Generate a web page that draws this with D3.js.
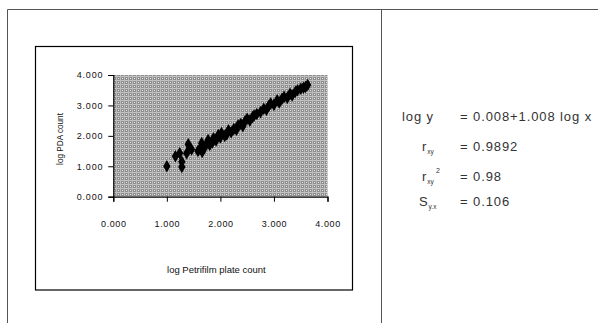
<!DOCTYPE html>
<html>
<head>
<meta charset="utf-8">
<script src="https://cdn.jsdelivr.net/npm/d3@7"></script>
<style>
  body { margin: 0; background: #fff; }
  svg { display: block; font-family: Arial, "Liberation Sans", sans-serif; }
</style>
</head>
<body>
<div id="chart"></div>
<script>
// values (log10 counts)
const logPetrifilm = [1.00, 1.16, 1.24, 1.28, 1.28, 1.37, 1.40, 1.46, 1.58, 1.62, 1.66, 1.65, 1.70, 1.72,
  1.77, 1.80, 1.85, 1.87, 1.92, 1.96, 2.00, 2.02, 2.08, 2.12, 2.15, 2.20, 2.25, 2.30, 2.33, 2.38,
  2.42, 2.46, 2.50, 2.55, 2.60, 2.63, 2.68, 2.75, 2.81, 2.86, 2.90, 2.94, 3.00, 3.06, 3.10, 3.15,
  3.19, 3.25, 3.30, 3.34, 3.40, 3.44, 3.50, 3.55, 3.59, 3.63]
const logPDA = [1.00, 1.33, 1.43, 1.15, 0.98, 1.43, 1.72, 1.55, 1.50, 1.58, 1.47, 1.76, 1.60, 1.68,
  1.86, 1.70, 1.78, 1.92, 1.85, 2.03, 1.95, 2.09, 2.00, 2.05, 2.18, 2.12, 2.22, 2.20, 2.35, 2.39,
  2.32, 2.48, 2.56, 2.50, 2.62, 2.67, 2.72, 2.78, 2.89, 2.86, 2.98, 3.06, 3.02, 3.17, 3.10, 3.22,
  3.28, 3.25, 3.38, 3.33, 3.45, 3.50, 3.55, 3.58, 3.61, 3.67]

const xTicks = [0, 1, 2, 3, 4]
const yTicks = [0, 1, 2, 3, 4]

// regression summary shown on the right
const statLabels = ['log y', 'r', 'r', 'S']
const statSubs = ['', 'xy', 'xy', 'y.x']
const statSups = ['', '', '2', '']
const statValues = ['= 0.008+1.008 log x', '= 0.9892', '=  0.98', '= 0.106']

const width = 598
const height = 323

const svg = d3.select('#chart')
  .append('svg')
  .attr('width', width)
  .attr('height', height)

// outer frame of the table cell
svg.append('path')
  .attr('d', 'M7.5,323 V9.5 H598 M381.5,9.5 V323')
  .attr('fill', 'none')
  .attr('stroke', '#555')
  .attr('stroke-width', 1)

// chart box
svg.append('rect')
  .attr('x', 35.5)
  .attr('y', 46.5)
  .attr('width', 317)
  .attr('height', 243.5)
  .attr('fill', '#fff')
  .attr('stroke', '#000')
  .attr('stroke-width', 1.2)

// plot area
const plot = { left: 113.3, top: 75, right: 327.5, bottom: 196.7 }

const x = d3.scaleLinear()
  .domain([0, 4])
  .range([plot.left, plot.right])

const y = d3.scaleLinear()
  .domain([0, 4])
  .range([plot.bottom, plot.top])

// speckled grey background of the scan
const defs = svg.append('defs')
const pat = defs.append('pattern')
  .attr('id', 'speckle')
  .attr('patternUnits', 'userSpaceOnUse')
  .attr('width', 4)
  .attr('height', 4)
pat.append('rect').attr('width', 4).attr('height', 4).attr('fill', '#8e8e8e')
pat.append('rect').attr('width', 4).attr('height', 1).attr('fill', '#c4c4c4')
pat.append('rect').attr('width', 1).attr('height', 4).attr('fill', '#bcbcbc')
pat.append('rect').attr('x', 2).attr('y', 2).attr('width', 1).attr('height', 1).attr('fill', '#e8e8e8')

svg.append('rect')
  .attr('x', plot.left)
  .attr('y', plot.top)
  .attr('width', plot.right - plot.left)
  .attr('height', plot.bottom - plot.top)
  .attr('fill', 'url(#speckle)')

// x axis
svg.append('g')
  .attr('transform', `translate(0,${plot.bottom})`)
  .call(d3.axisBottom(x).tickValues(xTicks).tickSize(5).tickFormat(d3.format('.3f')))
  .call(g => g.select('.domain').attr('stroke-width', 1.2))
  .call(g => g.selectAll('.tick text')
    .attr('y', 24)
    .attr('font-size', 9)
    .attr('letter-spacing', 0.6)
    .attr('font-family', 'Arial, "Liberation Sans", sans-serif')
    .attr('fill', '#111'))

// y axis
svg.append('g')
  .attr('transform', `translate(${plot.left},0)`)
  .call(d3.axisLeft(y).tickValues(yTicks).tickSize(5).tickFormat(d3.format('.3f')))
  .call(g => g.select('.domain').attr('stroke-width', 1.2))
  .call(g => g.selectAll('.tick text')
    .attr('x', -10)
    .attr('font-size', 9)
    .attr('letter-spacing', 0.8)
    .attr('font-family', 'Arial, "Liberation Sans", sans-serif')
    .attr('fill', '#111'))

// axis titles
svg.append('text')
  .attr('x', (plot.left + plot.right) / 2 - 4)
  .attr('y', 273)
  .attr('text-anchor', 'middle')
  .attr('font-size', 9.5)
  .attr('fill', '#111')
  .text('log Petrifilm plate count')

svg.append('text')
  .attr('transform', 'translate(63,139) rotate(-90)')
  .attr('text-anchor', 'middle')
  .attr('font-size', 8.2)
  .attr('fill', '#111')
  .text('log PDA count')

// data points
svg.append('g')
  .selectAll('path')
  .data(d3.range(logPetrifilm.length))
  .join('path')
  .attr('transform', i => `translate(${x(logPetrifilm[i])},${y(logPDA[i])})`)
  .attr('d', d3.symbol(d3.symbolDiamond, 46))
  .attr('fill', '#000')

// regression text
const rowY = [121, 151, 181, 206]
const stats = svg.append('g')
  .attr('font-size', 13)
  .attr('letter-spacing', 0.9)
  .attr('fill', '#333')

statLabels.forEach((lab, i) => {
  const t = stats.append('text')
    .attr('x', i === 0 ? 402 : (i === 3 ? 419 : 422))
    .attr('y', rowY[i])
  t.append('tspan').text(lab)
  if (statSubs[i]) {
    t.append('tspan')
      .attr('font-size', 6.5)
      .attr('letter-spacing', 0)
      .attr('dy', 3)
      .text(statSubs[i])
  }
  if (statSups[i]) {
    stats.append('text')
      .attr('x', 436)
      .attr('y', rowY[i] - 8)
      .attr('font-size', 7)
      .text(statSups[i])
  }
  stats.append('text')
    .attr('x', 460)
    .attr('y', rowY[i])
    .text(statValues[i])
})
</script>
</body>
</html>
